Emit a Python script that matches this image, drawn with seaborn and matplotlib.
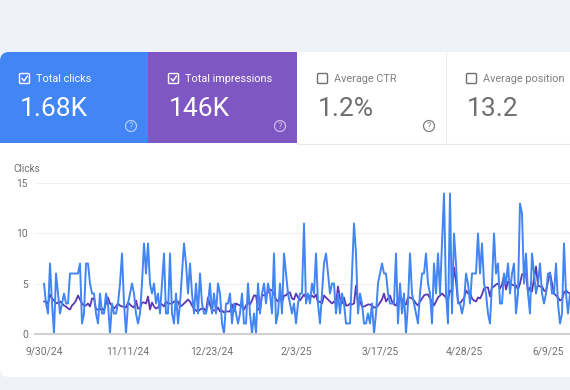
import matplotlib
matplotlib.use('Agg')
import matplotlib.pyplot as plt
import matplotlib.dates as mdates
from matplotlib.patches import FancyBboxPatch, Rectangle, Circle
import pandas as pd
import seaborn as sns

# daily values
start_date = '2024-09-30'
clicks = [5, 3, 2, 7, 3, 0, 6, 4, 2, 3, 4, 3, 3, 6, 6, 6, 6, 6, 7, 1,
          2, 7, 7, 5, 4, 4, 2, 1, 4, 2, 2, 4, 3, 0, 3, 2, 2, 3, 5, 8,
          3, 0, 3, 4, 5, 4, 2, 1, 2, 5, 9, 6, 9, 5, 4, 5, 3, 4, 2, 5,
          8, 2, 2, 8, 2, 1, 4, 1, 3, 6, 9, 7, 4, 7, 4, 2, 5, 2, 6, 3,
          2, 2, 3, 5, 2, 4, 2, 5, 4, 1, 0, 3, 3, 4, 1, 3, 2, 1, 2, 4,
          1, 1, 5, 2, 0, 2, 0, 5, 2, 4, 5, 3, 5, 4, 2, 8, 1, 2, 5, 2,
          8, 6, 4, 3, 2, 3, 1, 3, 4, 4, 11, 3, 4, 3, 5, 4, 8, 3, 1, 4,
          7, 8, 6, 4, 5, 5, 2, 4, 2, 4, 3, 1, 1, 1, 6, 11, 8, 2, 4, 3,
          1, 1, 2, 1, 3, 0, 2, 5, 6, 7, 6, 6, 4, 3, 3, 3, 8, 1, 5, 2,
          4, 0, 3, 8, 4, 3, 2, 1, 4, 6, 6, 8, 5, 4, 1, 7, 4, 8, 4, 9,
          14, 4, 1, 14, 2, 10, 7, 3, 3, 2, 3, 6, 5, 3, 6, 6, 6, 10, 6, 9,
          5, 4, 2, 1, 5, 10, 6, 7, 3, 3, 6, 5, 7, 4, 6, 7, 2, 4, 13, 12,
          5, 8, 4, 2, 8, 6, 4, 5, 7, 4, 3, 4, 6, 6, 4, 4, 7, 3, 1, 2,
          9, 4, 2, 4]
impressions = [3.2, 3.2, 3.0, 3.9, 3.5, 3.3, 3.0, 3.1, 3.2, 3.0, 2.8, 2.7, 2.5, 2.4, 2.8, 3.0, 3.3, 3.8, 3.4, 3.0,
               2.8, 2.8, 3.0, 2.7, 3.5, 3.5, 2.4, 2.4, 2.4, 2.5, 2.3, 3.0, 3.6, 3.0, 2.8, 2.5, 2.7, 3.0, 2.8, 2.7,
               2.7, 2.6, 3.1, 2.9, 2.7, 2.6, 3.3, 2.5, 2.5, 3.1, 3.1, 3.0, 3.7, 2.4, 3.1, 2.7, 2.5, 2.6, 3.0, 2.9,
               2.7, 3.2, 3.0, 3.0, 3.0, 3.2, 3.2, 3.2, 2.7, 2.8, 3.0, 3.2, 3.4, 3.2, 2.8, 2.5, 2.3, 2.2, 2.4, 2.5,
               2.5, 2.2, 3.6, 2.9, 2.3, 2.3, 2.3, 2.6, 2.2, 2.3, 2.1, 2.2, 2.2, 2.2, 2.9, 2.2, 3.0, 2.9, 2.8, 2.7,
               2.4, 2.8, 3.1, 2.9, 3.3, 3.8, 3.8, 2.4, 2.4, 3.9, 3.8, 4.0, 4.1, 4.4, 4.3, 4.0, 3.4, 3.2, 3.7, 3.1,
               3.8, 3.8, 4.1, 4.1, 3.5, 3.4, 4.0, 3.6, 3.3, 3.6, 3.9, 3.6, 3.9, 3.6, 3.8, 3.6, 3.9, 3.1, 3.2, 3.0,
               3.8, 3.6, 3.4, 3.2, 3.0, 3.2, 3.0, 4.7, 3.5, 3.0, 3.6, 2.8, 2.8, 3.0, 2.9, 3.0, 4.8, 2.9, 3.2, 2.7,
               2.7, 2.8, 2.9, 2.9, 2.8, 2.6, 2.6, 2.8, 3.1, 3.4, 4.0, 3.2, 3.5, 3.8, 3.2, 2.9, 2.8, 3.4, 3.7, 3.4,
               3.0, 2.9, 3.6, 3.6, 3.5, 3.3, 3.0, 2.8, 3.2, 3.5, 3.8, 3.9, 3.9, 3.5, 3.2, 2.8, 3.2, 3.6, 3.8, 4.0,
               3.8, 3.6, 3.4, 4.3, 4.1, 6.6, 5.2, 3.2, 3.0, 3.3, 3.5, 4.3, 4.0, 4.1, 3.5, 3.3, 3.2, 3.6, 3.5, 3.9,
               4.5, 4.6, 4.6, 3.7, 4.6, 4.7, 4.9, 5.0, 4.5, 4.9, 5.8, 4.4, 5.2, 4.9, 4.9, 4.8, 4.8, 4.4, 5.0, 5.9,
               6.0, 6.0, 4.1, 4.6, 4.2, 5.5, 6.7, 4.8, 4.7, 4.7, 4.3, 4.2, 5.2, 6.1, 5.0, 4.0, 3.8, 3.6, 3.3, 3.4,
               4.1, 4.3, 4.1, 4.0]
y_ticks = [0, 5, 10, 15]
x_tick_dates = ['2024-09-30', '2024-11-11', '2024-12-23', '2025-02-03', '2025-03-17', '2025-04-28', '2025-06-09']
card_labels = ['Total clicks', 'Total impressions', 'Average CTR', 'Average position']
card_values = ['1.68K', '146K', '1.2%', '13.2']

BLUE = '#4285f4'
PURPLE = '#7e57c2'
LINE_PURPLE = '#5e35b1'
GREY = '#6f6f6f'
LIGHT_GREY = '#7f7f7f'

sns.set_theme(style='white')
plt.rcParams['font.family'] = ['Roboto', 'DejaVu Sans']

df = pd.DataFrame({'date': pd.date_range(start_date, periods=len(clicks)),
                   'clicks': clicks, 'impressions': impressions})

fig = plt.figure(figsize=(5.7, 3.9), dpi=100, facecolor='#eff2f8')

# background layer in pixel coordinates for the cards
bg = fig.add_axes([0, 0, 1, 1])
bg.set_xlim(0, 570)
bg.set_ylim(390, 0)
bg.axis('off')

# white panel, rounded on the left
bg.add_patch(FancyBboxPatch((0, 52), 600, 325, boxstyle='round,pad=0,rounding_size=9',
                            fc='white', ec='none', zorder=1))
# cards
blue_card = FancyBboxPatch((0, 52), 160, 91, boxstyle='round,pad=0,rounding_size=9',
                           fc=BLUE, ec='none', zorder=2)
bg.add_patch(blue_card)
bg.add_patch(Rectangle((0, 70), 20, 73, fc=BLUE, ec='none', zorder=2))
bg.add_patch(Rectangle((148, 52), 149, 91, fc=PURPLE, ec='none', zorder=3))
bg.plot([297, 570], [143.5, 143.5], color='#e8e8e8', lw=0.8, zorder=3)
bg.plot([446, 446], [52, 143], color='#eeeeee', lw=0.8, zorder=3)

card_x = [19, 168, 317, 466]
for i in range(4):
    on = i < 2
    col = 'white' if on else GREY
    x = card_x[i]
    bg.add_patch(FancyBboxPatch((x + 0.5, 73.5), 10, 10, boxstyle='round,pad=0,rounding_size=1.2',
                                fc='none', ec=col, lw=1.0, zorder=4))
    if on:
        bg.plot([x + 3, x + 5, x + 8.5], [78.5, 81, 76], color=col, lw=1.0, zorder=4)
    bg.text(x + 17, 78.5, card_labels[i], color='white' if on else LIGHT_GREY, fontsize=7.8,
            va='center', ha='left', zorder=4)
    bg.text(x + 1, 108.5, card_values[i], color=col, fontsize=19, va='center', ha='left', zorder=4)
    if i < 3:
        hx = x + 112
        bg.add_patch(Circle((hx, 126), 5.5, fc='none', ec=col, lw=0.9, alpha=0.6 if on else 0.9, zorder=4))
        bg.text(hx, 126.3, '?', color=col, fontsize=6.5, ha='center', va='center',
                alpha=0.6 if on else 0.9, zorder=4)

bg.text(13, 169, 'Clicks', color=GREY, fontsize=7.2, va='center', ha='left')

# chart area: 0 at pixel y 333.5, 15 at pixel y 183.5
ax = fig.add_axes([35 / 570, 1 - 333.5 / 390, 535 / 570, 150 / 390])
ax.patch.set_alpha(0)
sns.lineplot(data=df, x='date', y='impressions', ax=ax, color=LINE_PURPLE, lw=1.3)
sns.lineplot(data=df, x='date', y='clicks', ax=ax, color=BLUE, lw=1.4)

ax.set_xlim(pd.Timestamp(start_date) - pd.Timedelta(days=4.5),
            pd.Timestamp(start_date) + pd.Timedelta(days=263))
ax.set_ylim(0, 15)
ax.set_yticks(y_ticks)
ax.set_xticks(pd.to_datetime(x_tick_dates))
ax.xaxis.set_major_formatter(mdates.DateFormatter('%-m/%-d/%y'))
ax.set_xlabel('')
ax.set_ylabel('')
ax.grid(axis='y', color='#f0f0f0', lw=0.8)
ax.set_axisbelow(True)
ax.tick_params(axis='both', length=0, labelsize=7.4, labelcolor=GREY)
ax.tick_params(axis='x', pad=9.5)
ax.tick_params(axis='y', pad=5)
for s in ['top', 'left', 'right']:
    ax.spines[s].set_visible(False)
ax.spines['bottom'].set_color('#cfcfcf')
ax.spines['bottom'].set_linewidth(1.4)

fig.savefig('out.png', dpi=100, facecolor=fig.get_facecolor())
